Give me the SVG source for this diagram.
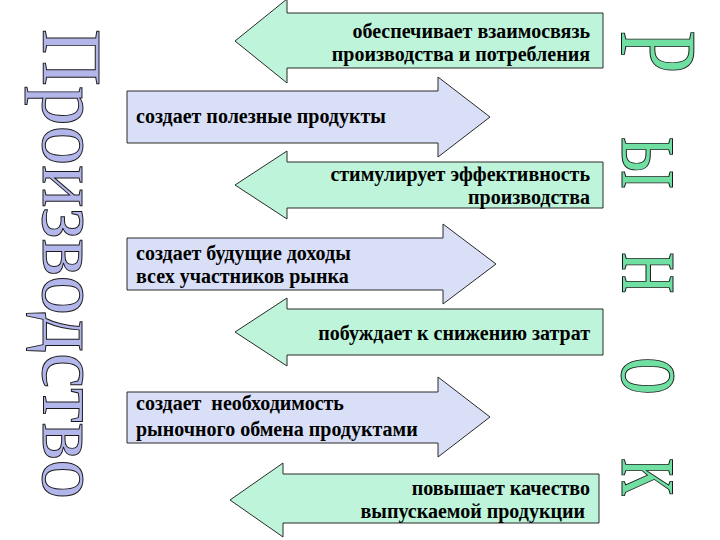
<svg xmlns="http://www.w3.org/2000/svg" width="720" height="540" viewBox="0 0 720 540">
<style>
.g{fill:#bdf4da;stroke:#2a2a2a;stroke-width:1}
.b{fill:#d9dff7;stroke:#2a2a2a;stroke-width:1}
.t{font-family:'Times New Roman',Times,Tinos,'Noto Serif','Liberation Serif','DejaVu Serif',FreeSerif,Georgia,serif;font-weight:bold;font-size:20px;fill:#000}
.r{text-anchor:end}
.big{font-family:'Times New Roman',Times,Tinos,'Noto Serif','Liberation Serif','DejaVu Serif',FreeSerif,Georgia,serif;stroke:#1a1a1a;stroke-width:1}
.left{fill:#b3b6ea;font-size:85px}
.right{fill:#6fe0a2;font-size:110px;text-anchor:middle}
</style>
<rect width="720" height="540" fill="#fff"/>
<g id="title-left">
<text class="big left" transform="translate(43,29) rotate(90)" x="0" y="0" textLength="470" lengthAdjust="spacingAndGlyphs">Производство</text>
</g>
<g id="title-right">
<text class="big right" transform="translate(622,52) rotate(90) scale(0.7,1)">Р</text>
<text class="big right" transform="translate(622,163) rotate(90) scale(0.7,1)">ы</text>
<text class="big right" transform="translate(622,273) rotate(90) scale(0.7,1)">н</text>
<text class="big right" transform="translate(622,376) rotate(90) scale(0.7,1)">о</text>
<text class="big right" transform="translate(622,477) rotate(90) scale(0.7,1)">к</text>
</g>
<g id="connectors">
<g id="a1"><polygon class="g" points="603,13 287,13 287,-1 235,41 287,83 287,68 603,68"/>
<text class="t r" x="590" y="38">обеспечивает взаимосвязь</text>
<text class="t r" x="590" y="61">производства и потребления</text></g>
<g id="a2"><polygon class="b" points="127,91 438,91 438,77 490,117 438,157 438,143 127,143"/>
<text class="t" x="136" y="123">создает полезные продукты</text></g>
<g id="a3"><polygon class="g" points="603,162 287,162 287,151 235,185 287,219 287,208 603,208"/>
<text class="t r" x="590" y="181">стимулирует эффективность</text>
<text class="t r" x="590" y="204">производства</text></g>
<g id="a4"><polygon class="b" points="127,238 443,238 443,224 496,264 443,304 443,290 127,290"/>
<text class="t" x="136" y="260">создает будущие доходы</text>
<text class="t" x="136" y="283">всех участников рынка</text></g>
<g id="a5"><polygon class="g" points="603,309 287,309 287,298 235,332 287,366 287,355 603,355"/>
<text class="t r" x="590" y="340">побуждает к снижению затрат</text></g>
<g id="a6"><polygon class="b" points="127,392 438,392 438,377 490,417 438,457 438,443 127,443"/>
<text class="t" x="136" y="410" xml:space="preserve">создает  необходимость</text>
<text class="t" x="136" y="436">рыночного обмена продуктами</text></g>
<g id="a7"><polygon class="g" points="599,474 283,474 283,463 230,500 283,537 283,523 599,523"/>
<text class="t r" x="590" y="495">повышает качество</text>
<text class="t r" x="590" y="518" xml:space="preserve">выпускаемой продукции </text></g>
</g>
</svg>
